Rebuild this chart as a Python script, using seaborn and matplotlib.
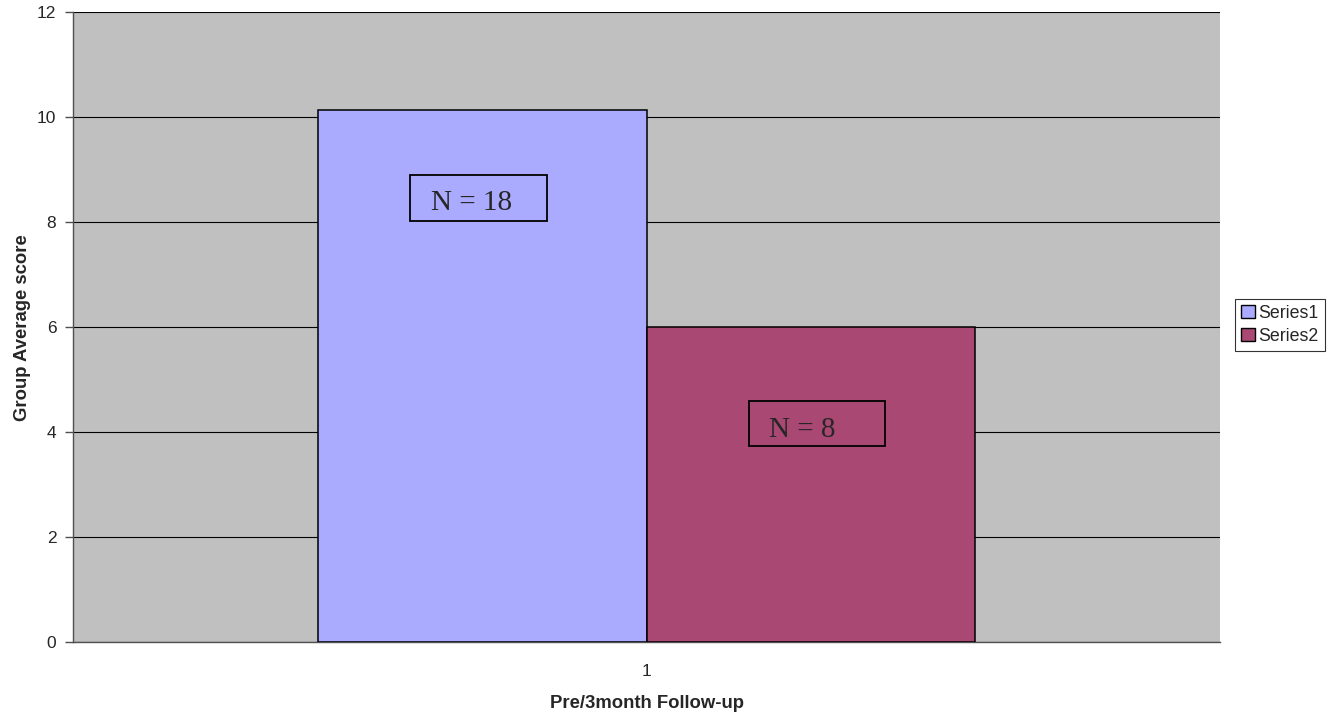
import matplotlib
matplotlib.use("Agg")
import matplotlib.pyplot as plt
from matplotlib.patches import Rectangle, Patch
import pandas as pd
import seaborn as sns

# Data
categories = ["1"]
series_names = ["Series1", "Series2"]
series1_values = [10.14]
series2_values = [6.0]
annotations = ["N = 18", "N = 8"]
y_ticks = [0, 2, 4, 6, 8, 10, 12]

colors = {"Series1": "#AAAAFF", "Series2": "#AA4874"}

df = pd.DataFrame({
    "group": categories * 2,
    "series": [series_names[0]] * len(series1_values) + [series_names[1]] * len(series2_values),
    "score": series1_values + series2_values,
})

sns.set_style("white")
plt.rcParams["font.family"] = ["Liberation Sans", "DejaVu Sans"]

fig = plt.figure(figsize=(13.33, 7.15), dpi=100)
ax = fig.add_axes([73 / 1333, 1 - 642 / 715, (1220 - 73) / 1333, (642 - 12.5) / 715])
ax.set_facecolor("#C0C0C0")

sns.barplot(data=df, x="group", y="score", hue="series", palette=colors,
            width=0.573, edgecolor="black", linewidth=1.1, saturation=1,
            legend=False, ax=ax, zorder=3)

ax.set_xlim(-0.5, 0.5)
ax.set_ylim(0, 12)
ax.set_yticks(y_ticks)
ax.set_yticklabels([str(t) for t in y_ticks], fontsize=12.5)
ax.yaxis.grid(True, color="black", linewidth=0.8, zorder=0)
ax.set_axisbelow(True)

# category boundary ticks on the x axis, label at the centre
ax.set_xticks([0])
ax.set_xticklabels(categories, fontsize=12.5)
ax.tick_params(axis="x", which="major", length=0, pad=15.5)
ax.set_xticks([-0.5, 0.5], minor=True)
ax.tick_params(axis="x", which="minor", length=6, color="#505050", width=1)
ax.tick_params(axis="y", which="major", length=6, color="#505050", width=1, left=True, pad=6)

for side in ["top", "right"]:
    ax.spines[side].set_visible(False)
for side in ["left", "bottom"]:
    ax.spines[side].set_color("#505050")
    ax.spines[side].set_linewidth(1)

ax.set_xlabel("Pre/3month Follow-up", fontsize=13.3, fontweight="bold", labelpad=11.5)
ax.set_ylabel("Group Average score", fontsize=13.3, fontweight="bold", labelpad=4.6)

# text boxes inside bars (axes fractions)
boxes = [
    (0.2938, 0.669, 0.1195, 0.073, 0.3121, 0.6863),
    (0.589, 0.311, 0.119, 0.072, 0.607, 0.326),
]
for (bx, by, bw, bh, tx, ty), label in zip(boxes, annotations):
    ax.add_patch(Rectangle((bx, by), bw, bh, transform=ax.transAxes,
                           facecolor="none", edgecolor="black", linewidth=1.3, zorder=5))
    ax.text(tx, ty, label, transform=ax.transAxes, ha="left", va="baseline",
            fontsize=21, family=["Liberation Serif", "DejaVu Serif"], zorder=6)

handles = [Patch(facecolor=colors[s], edgecolor="black", linewidth=1) for s in series_names]
leg = fig.legend(handles, series_names, loc="center left", bbox_to_anchor=(0.9265, 0.5455),
                 bbox_transform=fig.transFigure, frameon=True, fancybox=False,
                 fontsize=12.8, handlelength=0.75, handleheight=0.75, handletextpad=0.2,
                 borderpad=0.35, labelspacing=0.35, borderaxespad=0)
leg.get_frame().set_edgecolor("black")
leg.get_frame().set_linewidth(0.8)

fig.savefig("out.png", dpi=100, facecolor="white")
